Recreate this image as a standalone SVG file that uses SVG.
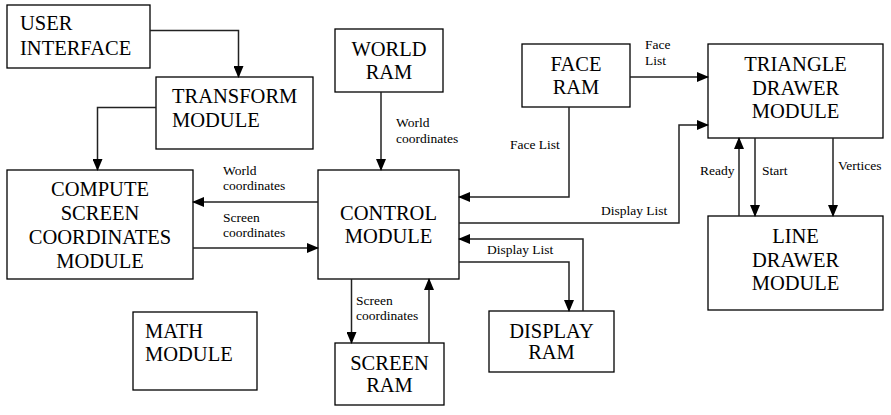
<svg xmlns="http://www.w3.org/2000/svg" width="891" height="415" viewBox="0 0 891 415">
<style>
.box{fill:#fff;stroke:#000;stroke-width:1.3}
.t{font-family:"Liberation Serif","Times New Roman",serif;font-size:20.5px;fill:#000}
.c{text-anchor:middle}
.l{font-family:"Liberation Serif","Times New Roman",serif;font-size:13.5px;fill:#000}
.e{fill:none;stroke:#222;stroke-width:1.5}
</style>
<defs>
<marker id="a" markerUnits="userSpaceOnUse" markerWidth="12" markerHeight="10" refX="11" refY="5" orient="auto">
<path d="M0,0 L12,5 L0,10 z" fill="#000"/>
</marker>
</defs>
<rect width="891" height="415" fill="#fff"/>
<g id="user-interface"><rect class="box" x="7" y="5" width="143" height="63"/><text class="t" x="20" y="30">USER</text><text class="t" x="20" y="55">INTERFACE</text></g>
<g id="transform"><rect class="box" x="156" y="77" width="157" height="72"/><text class="t" x="172" y="103">TRANSFORM</text><text class="t" x="172" y="127">MODULE</text></g>
<g id="compute"><rect class="box" x="7" y="170" width="186" height="109"/><text class="t c" x="100" y="196">COMPUTE</text><text class="t c" x="100" y="220">SCREEN</text><text class="t c" x="100" y="244">COORDINATES</text><text class="t c" x="100" y="268">MODULE</text></g>
<g id="control"><rect class="box" x="318" y="170" width="141" height="109"/><text class="t c" x="388.5" y="220">CONTROL</text><text class="t c" x="388.5" y="243">MODULE</text></g>
<g id="world-ram"><rect class="box" x="335" y="29" width="108" height="63"/><text class="t c" x="389" y="56">WORLD</text><text class="t c" x="389" y="79">RAM</text></g>
<g id="face-ram"><rect class="box" x="522" y="44" width="108" height="63"/><text class="t c" x="576" y="71">FACE</text><text class="t c" x="576" y="94">RAM</text></g>
<g id="triangle"><rect class="box" x="708" y="44" width="175" height="94"/><text class="t c" x="795.5" y="71">TRIANGLE</text><text class="t c" x="795.5" y="95">DRAWER</text><text class="t c" x="795.5" y="118">MODULE</text></g>
<g id="line-drawer"><rect class="box" x="708" y="216" width="175" height="94"/><text class="t c" x="795.5" y="243">LINE</text><text class="t c" x="795.5" y="267">DRAWER</text><text class="t c" x="795.5" y="290">MODULE</text></g>
<g id="math"><rect class="box" x="133" y="312" width="124" height="78"/><text class="t" x="145" y="338">MATH</text><text class="t" x="145" y="361">MODULE</text></g>
<g id="screen-ram"><rect class="box" x="335" y="343" width="109" height="62"/><text class="t c" x="389.5" y="370">SCREEN</text><text class="t c" x="389.5" y="392">RAM</text></g>
<g id="display-ram"><rect class="box" x="489" y="311" width="125" height="61"/><text class="t c" x="551.5" y="338">DISPLAY</text><text class="t c" x="551.5" y="359">RAM</text></g>
<g id="connectors">
<path class="e" d="M150,30.5 H238.5 V77" marker-end="url(#a)"/>
<path class="e" d="M156,107.5 H97.5 V170" marker-end="url(#a)"/>
<path class="e" d="M381,92 V170" marker-end="url(#a)"/>
<path class="e" d="M318,202 H193" marker-end="url(#a)"/>
<path class="e" d="M193,248 H318" marker-end="url(#a)"/>
<path class="e" d="M569,107 V197 H459" marker-end="url(#a)"/>
<path class="e" d="M630,77 H708" marker-end="url(#a)"/>
<path class="e" d="M459,223 H679 V125 H708" marker-end="url(#a)"/>
<path class="e" d="M459,262 H569 V311" marker-end="url(#a)"/>
<path class="e" d="M583,311 V239 H459" marker-end="url(#a)"/>
<path class="e" d="M351.5,279 V343" marker-end="url(#a)"/>
<path class="e" d="M429,343 V279" marker-end="url(#a)"/>
<path class="e" d="M739,216 V138" marker-end="url(#a)"/>
<path class="e" d="M755,138 V216" marker-end="url(#a)"/>
<path class="e" d="M833,138 V216" marker-end="url(#a)"/>
</g>
<g id="labels">
<text class="l" x="223" y="175">World</text><text class="l" x="223" y="190">coordinates</text>
<text class="l" x="223" y="222">Screen</text><text class="l" x="223" y="237">coordinates</text>
<text class="l" x="396" y="127">World</text><text class="l" x="396" y="143">coordinates</text>
<text class="l" x="510" y="149">Face List</text>
<text class="l" x="645" y="49">Face</text><text class="l" x="645" y="65">List</text>
<text class="l" x="601" y="215">Display List</text>
<text class="l" x="487" y="254">Display List</text>
<text class="l" x="356" y="305">Screen</text><text class="l" x="356" y="320">coordinates</text>
<text class="l" x="700" y="175">Ready</text>
<text class="l" x="762" y="175">Start</text>
<text class="l" x="838" y="170">Vertices</text>
</g>
</svg>
